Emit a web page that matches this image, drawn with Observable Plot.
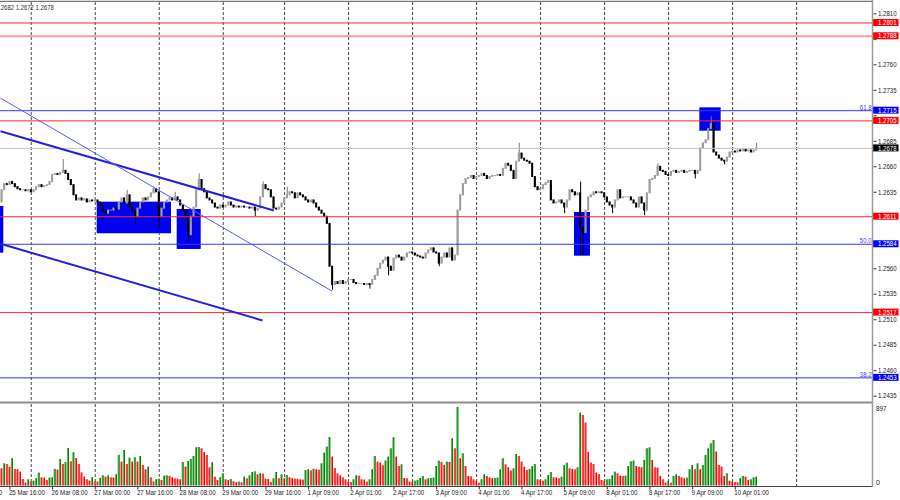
<!DOCTYPE html>
<html><head><meta charset="utf-8">
<script src="https://cdn.jsdelivr.net/npm/d3@7"></script>
<script src="https://cdn.jsdelivr.net/npm/@observablehq/plot@0.6"></script>
<style>
body{margin:0;background:#fff;}
#wrap{position:relative;width:900px;height:500px;overflow:hidden;background:#fff;}
#wrap svg{position:absolute;left:0;}
</style></head><body><div id="wrap"></div>
<script>
// ---------------- DATA ----------------
// H1 bars, index 0 = 25 Mar 13:00 ... 283 = 10 Apr 09:00
const firstOpen = 1.2625;
const closes = [
1.2637,1.2643,1.2642,1.2645,1.2643,1.2640,1.2638,1.2637,1.2637,1.2636,1.2637,1.2635,1.2637,1.2640,1.2642,1.2640,1.2641,1.2642,1.2645,1.2652,
1.2653,1.2652,1.2654,1.2656,1.2653,1.2647,1.2642,1.2632,1.2627,1.2629,1.2627,1.2628,1.2625,1.2627,1.2626,1.2627,1.2625,1.2622,1.2616,1.2614,
1.2617,1.2617,1.2619,1.2618,1.2625,1.2629,1.2624,1.2632,1.2620,1.2616,1.2611,1.2619,1.2625,1.2629,1.2627,1.2630,1.2634,1.2638,1.2635,1.2611,
1.2619,1.2625,1.2627,1.2629,1.2627,1.2630,1.2627,1.2622,1.2617,1.2611,1.2593,1.2611,1.2620,1.2637,1.2647,1.2638,1.2635,1.2629,1.2627,1.2624,
1.2620,1.2619,1.2622,1.2620,1.2622,1.2625,1.2622,1.2620,1.2621,1.2620,1.2621,1.2620,1.2620,1.2619,1.2620,1.2617,1.2619,1.2630,1.2642,1.2638,
1.2637,1.2630,1.2619,1.2618,1.2620,1.2624,1.2629,1.2632,1.2635,1.2634,1.2629,1.2634,1.2632,1.2630,1.2627,1.2625,1.2627,1.2624,1.2620,1.2617,
1.2614,1.2611,1.2604,1.2562,1.2544,1.2547,1.2545,1.2548,1.2545,1.2547,1.2549,1.2549,1.2546,1.2545,1.2545,1.2545,1.2544,1.2545,1.2544,1.2549,
1.2553,1.2560,1.2565,1.2568,1.2571,1.2562,1.2558,1.2570,1.2573,1.2571,1.2568,1.2571,1.2575,1.2576,1.2575,1.2573,1.2572,1.2571,1.2570,1.2575,
1.2578,1.2580,1.2576,1.2575,1.2565,1.2571,1.2575,1.2571,1.2580,1.2568,1.2573,1.2617,1.2632,1.2643,1.2648,1.2649,1.2651,1.2648,1.2650,1.2651,
1.2653,1.2651,1.2648,1.2650,1.2651,1.2651,1.2652,1.2651,1.2658,1.2663,1.2661,1.2656,1.2648,1.2665,1.2673,1.2668,1.2666,1.2665,1.2663,1.2650,
1.2640,1.2637,1.2638,1.2642,1.2644,1.2646,1.2627,1.2624,1.2625,1.2627,1.2624,1.2620,1.2627,1.2637,1.2635,1.2632,1.2634,1.2600,1.2595,1.2617,
1.2630,1.2632,1.2635,1.2634,1.2635,1.2634,1.2630,1.2625,1.2622,1.2620,1.2627,1.2637,1.2629,1.2630,1.2630,1.2630,1.2627,1.2624,1.2620,1.2630,
1.2624,1.2617,1.2634,1.2647,1.2648,1.2651,1.2660,1.2656,1.2655,1.2652,1.2651,1.2655,1.2656,1.2654,1.2655,1.2656,1.2654,1.2655,1.2656,1.2656,
1.2653,1.2656,1.2678,1.2683,1.2686,1.2697,1.2702,1.2674,1.2671,1.2668,1.2666,1.2665,1.2669,1.2674,1.2675,1.2674,1.2676,1.2675,1.2677,1.2675,
1.2676,1.2674,1.2676,1.2678
];
const wickHighs = [[23,1.2667],[47,1.2637],[57,1.2640],[65,1.2635],[74,1.2653],[98,1.2645],[107,1.2640],[194,1.2683],[217,1.2645],[246,1.2663],[266,1.2709],[283,1.2683]];
const wickLows = [[50,1.2604],[59,1.2598],[70,1.2586],[95,1.2611],[124,1.2539],[138,1.2540],[145,1.2553],[164,1.2562],[211,1.2614],[217,1.2573],[218,1.2573],[229,1.2614],[241,1.2612],[260,1.2648],[271,1.2662]];
const volumes = [
196,253,246,215,311,189,185,158,74,32,70,48,55,82,147,93,90,63,90,93,
189,181,303,246,269,429,276,379,314,246,150,101,70,55,93,48,44,86,116,101,
116,93,90,128,349,272,406,246,318,272,322,272,337,234,185,215,93,44,70,78,
63,112,116,109,93,82,78,70,269,215,280,303,337,436,440,425,383,349,208,265,
101,63,93,139,70,63,74,48,36,44,36,101,82,116,154,162,128,139,135,78,
74,40,82,154,82,128,82,120,93,82,78,74,70,67,177,185,173,192,185,181,
253,375,444,554,330,200,139,116,93,70,44,40,70,116,112,70,67,44,70,185,
337,272,261,231,284,330,425,551,330,223,242,86,82,44,42,55,63,86,109,70,
82,86,90,223,284,269,234,272,269,539,425,897,311,368,223,109,105,70,55,32,
70,128,109,90,82,86,90,185,311,242,208,170,196,360,337,272,215,177,189,223,
246,70,67,55,70,120,154,93,90,82,101,231,261,196,189,185,208,832,806,718,
383,261,246,147,131,63,55,70,74,116,158,139,112,109,112,223,276,284,223,215,
208,291,425,436,291,208,204,109,70,32,55,32,109,128,109,93,82,90,185,234,
185,253,185,234,349,425,482,520,387,234,215,109,139,55,48,40,36,82,109,101,
63,70,93,101
];
const levelPrices = [1.2801, 1.2788, 1.2715, 1.2705, 1.2678, 1.2611, 1.2584, 1.2517, 1.2453];
const levelKinds  = ["red","pink","blue","red","price","red","blue","red","blue"];
const fiboLabels = [["61.8",1.2715],["50.0",1.2584],["38.2",1.2453]];
const priceTicks = [1.2435,1.2460,1.2485,1.2510,1.2535,1.2560,1.2585,1.2610,1.2635,1.2660,1.2685,1.2710,1.2735,1.2760,1.2785,1.2810];
// rectangles: [bar from, bar to, price low, price high]
const zones = [[-0.525,0.71,1.25753,1.26211],[35.73,63.59,1.25943,1.26253],[65.73,74.73,1.25789,1.26181],[214.7,220.7,1.25723,1.26152],[261.7,269.7,1.26949,1.27178]];
// trend lines: [bar1, price1, bar2, price2, kind]
const trendLines = [[-0.525,1.26949,101.95,1.26171,"thick"],[-0.525,1.25845,97.7,1.25093,"thick"],[-0.525,1.27273,123.85,1.25380,"thin"]];
const gridBars = [11,35,59,83,106,130,154,178,202,226,250,274,298];
const timeTickBars = [-13,3,19,35,51,67,83,99,115,131,147,163,179,195,211,227,243,259,275];
const timeTickLabels = ["25 Mar 00:00","25 Mar 16:00","26 Mar 08:00","27 Mar 00:00","27 Mar 16:00","28 Mar 08:00","29 Mar 00:00","29 Mar 16:00","1 Apr 09:00","2 Apr 01:00","2 Apr 17:00","3 Apr 09:00","4 Apr 01:00","4 Apr 17:00","5 Apr 09:00","8 Apr 01:00","8 Apr 17:00","9 Apr 09:00","10 Apr 01:00"];
const headerText = ["1.2682 1.2672 1.2678"];
const volMax = 897;

// ---------------- SETUP ----------------
const FONT = '"Liberation Sans Narrow","Liberation Sans",Arial,sans-serif';
const X0 = -0.525, X1 = 326.45, PLOT_W = 872;
const PXB = PLOT_W / (X1 - X0);
const ix = px => X0 + px / PXB;
const Y_MIN = 1.24308, Y_MAX = 1.28211;
const PPP = (Y_MAX - Y_MIN) / 398;

const hiMap = new Map(wickHighs), loMap = new Map(wickLows);
const bars = closes.map((c, i) => {
  const o = i === 0 ? firstOpen : closes[i - 1];
  let h = Math.max(o, c), l = Math.min(o, c);
  if (hiMap.has(i)) h = Math.max(h, hiMap.get(i));
  if (loMap.has(i)) l = Math.min(l, loMap.get(i));
  return {i, o, c, h, l, up: c >= o};
});
const lineColor = {red:"#ff2626", pink:"#ff9d9d", blue:"#3636ff", price:"#c6c6c6"};
const tagColor = {red:"#ff0000", pink:"#ff0000", blue:"#0000ff", price:"#000000"};
const levels = levelPrices.map((p, k) => ({p, kind: levelKinds[k]}));
const boxes = zones.map(([i1,i2,p1,p2]) => ({i1,i2,p1,p2}));
const trends = trendLines.map(([a,p,b,q,kind]) => ({a,p,b,q,kind}));
const fibs = fiboLabels.map(([t,p]) => ({t,p}));
const tTicks = timeTickBars.map((i,k) => ({i, label: timeTickLabels[k]}));
const vbars = volumes.map((v, i) => ({i, v, up: i > 0 && v > volumes[i-1]}));
// tick labels that sit fully under a level tag are hidden in the original
const visibleTicks = priceTicks.filter(t => !levelPrices.some(p => Math.abs(p - t) < 0.00055));

const main = Plot.plot({
  width: 900, height: 400,
  marginLeft: 0, marginRight: 28, marginTop: 2, marginBottom: 0,
  x: {domain: [X0, X1], axis: null},
  y: {domain: [Y_MIN, Y_MAX], axis: null},
  style: {fontFamily: FONT, background: "transparent"},
  marks: [
    Plot.ruleX(gridBars, {x: d => d, stroke: "#4a4a4a", strokeDasharray: "3,2"}),
    Plot.rect(boxes, {x1: "i1", x2: "i2", y1: "p1", y2: "p2", fill: "#0000f2"}),
    Plot.ruleX(bars, {x: "i", y1: "l", y2: "h", stroke: d => d.up ? "#7e7e7e" : "#000000"}),
    Plot.rect(bars, {x1: d => d.i - 0.37, x2: d => d.i + 0.37, y1: "o", y2: "c", fill: d => d.up ? "#9e9e9e" : "#000000", insetTop: -0.5, insetBottom: -0.5}),
    Plot.ruleY(levels.filter(d => d.kind !== "pink"), {y: "p", stroke: d => lineColor[d.kind], strokeWidth: 1}),
    Plot.ruleY(levels.filter(d => d.kind === "pink"), {y: "p", stroke: lineColor.pink, strokeWidth: 2}),
    Plot.link(trends.filter(d => d.kind === "thick"), {x1: "a", y1: "p", x2: "b", y2: "q", stroke: "#2222dd", strokeWidth: 2}),
    Plot.link(trends.filter(d => d.kind === "thin"), {x1: "a", y1: "p", x2: "b", y2: "q", stroke: "#5a5aff", strokeWidth: 1}),
    Plot.text(fibs, {x: () => ix(871), y: "p", text: "t", textAnchor: "end", lineAnchor: "bottom", dy: -1, fill: "#4040ff", fontSize: 7, fontFamily: FONT}),
    Plot.link(priceTicks, {x1: () => ix(873), x2: () => ix(876), y1: d => d, y2: d => d, stroke: "#333"}),
    Plot.text(visibleTicks, {x: () => ix(877.5), y: d => d, text: d => d.toFixed(4), textAnchor: "start", fill: "#222", fontSize: 7, fontFamily: FONT}),
    Plot.rect(levels, {x1: () => ix(873), x2: () => ix(898.5), y1: d => d.p - 3.5 * PPP, y2: d => d.p + 3.5 * PPP, fill: d => tagColor[d.kind]}),
    Plot.text(levels, {x: () => ix(877.5), y: "p", text: d => d.p.toFixed(4), textAnchor: "start", fill: "#ffffff", fontSize: 6.5, fontFamily: FONT}),
    Plot.ruleX([X1], {x: d => d, y1: Y_MAX + 2 * PPP, y2: Y_MIN, stroke: "#9a9a9a", strokeWidth: 1.5}),
    Plot.ruleY([Y_MAX + 1.2 * PPP], {y: d => d, x1: X0, x2: X1, stroke: "#555"}),
    Plot.text(headerText, {x: () => ix(53.3), y: () => Y_MAX, text: d => d, dy: 5, textAnchor: "end", fill: "#333", fontSize: 7, fontFamily: FONT})
  ]
});

const VPP = volMax / 78.5;
const vol = Plot.plot({
  width: 900, height: 100,
  marginLeft: 0, marginRight: 28, marginTop: 7, marginBottom: 14.5,
  x: {domain: [X0, X1], axis: null},
  y: {domain: [0, volMax], axis: null},
  style: {fontFamily: FONT, background: "transparent"},
  marks: [
    Plot.ruleY([volMax + 5 * VPP], {y: d => d, x1: X0, x2: X1, stroke: "#8c8c8c", strokeWidth: 2}),
    Plot.ruleX(gridBars, {x: d => d, y1: volMax + 3 * VPP, y2: -0.5 * VPP, stroke: "#4a4a4a", strokeDasharray: "3,2"}),
    Plot.rectY(vbars, {x1: d => d.i - 0.42, x2: d => d.i + 0.33, y: "v", fill: d => d.up ? "#5cb85c" : "#ff6a6a"}),
    Plot.rectY(vbars, {x1: d => d.i - 0.05, x2: d => d.i + 0.33, y: "v", fill: d => d.up ? "#0a820a" : "#ff0000"}),
    Plot.ruleY([-0.5 * VPP], {y: d => d, x1: X0, x2: X1, stroke: "#444"}),
    Plot.link(tTicks, {x1: "i", x2: "i", y1: -1 * VPP, y2: -3.5 * VPP, stroke: "#333"}),
    Plot.text(tTicks, {x: "i", y: () => -7 * VPP, text: "label", textAnchor: "start", dx: -1, fill: "#222", fontSize: 6.5, fontFamily: FONT}),
    Plot.ruleX([X1], {x: d => d, y1: volMax + 7 * VPP, y2: -1.5 * VPP, stroke: "#9a9a9a", strokeWidth: 1.5}),
    Plot.text([volMax], {x: () => ix(875.5), y: () => volMax - 1 * VPP, text: d => String(d), textAnchor: "start", fill: "#222", fontSize: 7, fontFamily: FONT}),
    Plot.text([0], {x: () => ix(875.5), y: () => 3.5 * VPP, text: d => String(d), textAnchor: "start", fill: "#222", fontSize: 7, fontFamily: FONT})
  ]
});

const wrap = document.getElementById("wrap");
main.style.top = "0px";
vol.style.top = "400px";
wrap.appendChild(main);
wrap.appendChild(vol);

// the original's type is horizontally condensed: fit texts to the widths it shows
function fitTexts(svg) {
  const texts = Array.from(svg.querySelectorAll("text"));
  let timeRatio = null;
  texts.forEach(t => { if (t.textContent === "25 Mar 16:00") timeRatio = 36 / t.getComputedTextLength(); });
  texts.forEach(t => {
    const s = t.textContent, L = t.getComputedTextLength();
    let target = null;
    if (/^\d\.\d{4}$/.test(s)) target = 18.5;
    else if (/(Mar|Apr)/.test(s) && timeRatio) target = L * timeRatio;
    else if (s === headerText[0]) target = 58;
    else if (/^\d\d\.\d$/.test(s)) target = 11.7;
    else if (s === "897") target = 10.5;
    if (target && L > 0) {
      t.setAttribute("textLength", target.toFixed(2));
      t.setAttribute("lengthAdjust", "spacingAndGlyphs");
    }
  });
}
fitTexts(main);
fitTexts(vol);
</script></body></html>
